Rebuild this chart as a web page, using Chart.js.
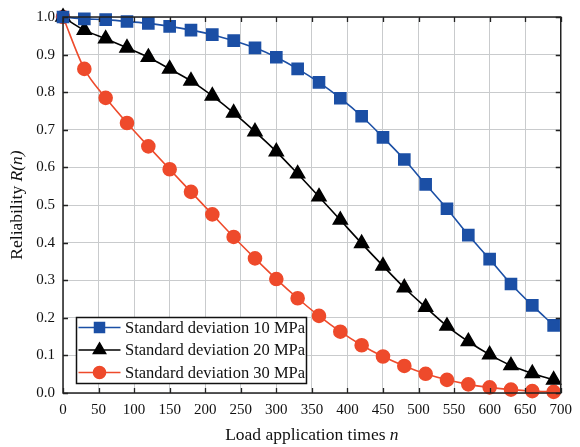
<!DOCTYPE html>
<html>
<head>
<meta charset="utf-8">
<script src="https://cdn.jsdelivr.net/npm/chart.js@4"></script>
<style>
  html, body { margin: 0; padding: 0; background: #fff; }
  #wrap { width: 580px; height: 447px; }
</style>
</head>
<body>
<div id="wrap"><canvas id="relChart" width="580" height="447"></canvas></div>
<script>
// load application times
const loadTimes = [0, 30, 60, 90, 120, 150, 180, 210, 240, 270, 300, 330, 360, 390, 420, 450, 480, 510, 540, 570, 600, 630, 660, 690];

// reliability R(n) per standard deviation
const sd10 = [1.0, 0.995, 0.993, 0.988, 0.983, 0.975, 0.965, 0.953, 0.937, 0.918, 0.893, 0.862, 0.826, 0.784, 0.736, 0.680, 0.621, 0.555, 0.490, 0.420, 0.356, 0.290, 0.233, 0.180];
const sd20 = [1.0, 0.965, 0.942, 0.918, 0.893, 0.862, 0.830, 0.790, 0.745, 0.695, 0.642, 0.583, 0.522, 0.460, 0.398, 0.338, 0.280, 0.228, 0.178, 0.137, 0.102, 0.073, 0.052, 0.035];
const sd30 = [1.0, 0.862, 0.785, 0.718, 0.656, 0.595, 0.535, 0.475, 0.415, 0.358, 0.303, 0.252, 0.205, 0.163, 0.127, 0.097, 0.072, 0.051, 0.035, 0.023, 0.015, 0.009, 0.005, 0.003];

const seriesNames = ["Standard deviation 10 MPa", "Standard deviation 20 MPa", "Standard deviation 30 MPa"];

const xTicks = [0, 50, 100, 150, 200, 250, 300, 350, 400, 450, 500, 550, 600, 650, 700];
const yTicks = [0, 0.1, 0.2, 0.3, 0.4, 0.5, 0.6, 0.7, 0.8, 0.9, 1.0];

const BLUE = "#1b4fa5";
const RED = "#ee4a2b";
const BLACK = "#000000";
const SERIF = "'Liberation Serif', 'Times New Roman', serif";

function pts(vals) {
    return vals.map((v, i) => ({ x: loadTimes[i], y: v }));
}

// inward ticks on all four sides, frame, legend and axis titles
const frameTicks = {
    id: "frameTicks",
    afterDatasetsDraw(chart) {
        const ctx = chart.ctx;
        const a = chart.chartArea;
        const xs = chart.scales.x, ys = chart.scales.y;
        ctx.save();
        ctx.strokeStyle = "#222";
        ctx.lineWidth = 1.3;
        ctx.beginPath();
        xTicks.forEach(t => {
            const px = Math.round(xs.getPixelForValue(t)) + 0.5;
            ctx.moveTo(px, a.bottom); ctx.lineTo(px, a.bottom - 5);
            ctx.moveTo(px, a.top); ctx.lineTo(px, a.top + 5);
        });
        yTicks.forEach(t => {
            const py = Math.round(ys.getPixelForValue(t)) + 0.5;
            ctx.moveTo(a.left, py); ctx.lineTo(a.left + 5, py);
            ctx.moveTo(a.right, py); ctx.lineTo(a.right - 5, py);
        });
        ctx.stroke();
        ctx.lineWidth = 1.5;
        ctx.strokeRect(a.left, a.top, a.right - a.left, a.bottom - a.top);
        ctx.restore();
    },
    afterDraw(chart) {
        const ctx = chart.ctx;
        const a = chart.chartArea;
        ctx.save();
        // legend box
        const lx = 76.5, ly = 317.5, lw = 230, lh = 66;
        ctx.fillStyle = "#fff";
        ctx.fillRect(lx, ly, lw, lh);
        ctx.strokeStyle = "#111";
        ctx.lineWidth = 1.5;
        ctx.strokeRect(lx, ly, lw, lh);
        const colors = [BLUE, BLACK, RED];
        const shapes = ["rect", "triangle", "circle"];
        const radii = [7, 7, 6];
        ctx.font = "16.5px " + SERIF;
        ctx.textBaseline = "middle";
        for (let i = 0; i < 3; i++) {
            const cy = ly + 10 + i * 22.5;
            ctx.strokeStyle = colors[i];
            ctx.lineWidth = 1.6;
            ctx.beginPath();
            ctx.moveTo(lx + 2, cy); ctx.lineTo(lx + 44, cy);
            ctx.stroke();
            ctx.fillStyle = colors[i];
            ctx.strokeStyle = colors[i];
            Chart.helpers.drawPoint(ctx, { pointStyle: shapes[i], radius: radii[i], borderWidth: 1 }, lx + 23, cy);
            ctx.fill();
            ctx.fillStyle = "#111";
            ctx.textAlign = "left";
            ctx.fillText(seriesNames[i], lx + 48.5, cy + 1);
        }
        // axis titles with italic parts
        ctx.fillStyle = "#111";
        const TF = "17.5px " + SERIF;
        const xt1 = "Load application times ";
        ctx.font = TF;
        const w1 = ctx.measureText(xt1).width;
        ctx.font = "italic " + TF;
        const w2 = ctx.measureText("n").width;
        const cx = (a.left + a.right) / 2;
        let sx = cx - (w1 + w2) / 2;
        ctx.textAlign = "left";
        ctx.textBaseline = "middle";
        ctx.font = TF;
        ctx.fillText(xt1, sx, 435);
        ctx.font = "italic " + TF;
        ctx.fillText("n", sx + w1, 435);

        ctx.translate(17, (a.top + a.bottom) / 2);
        ctx.rotate(-Math.PI / 2);
        const yt1 = "Reliability ";
        ctx.font = TF;
        const v1 = ctx.measureText(yt1).width;
        ctx.font = "italic " + TF;
        const v2 = ctx.measureText("R(n)").width;
        let sy = -(v1 + v2) / 2;
        ctx.font = TF;
        ctx.fillText(yt1, sy, 0);
        ctx.font = "italic " + TF;
        ctx.fillText("R(n)", sy + v1, 0);
        ctx.restore();
    }
};

const ctxR = document.getElementById("relChart").getContext("2d");

let chart = new Chart(ctxR, {
    type: "line",
    data: {
        datasets: [
            {
                label: seriesNames[0],
                data: pts(sd10),
                borderColor: BLUE,
                backgroundColor: BLUE,
                pointStyle: "rect",
                pointRadius: 7.8,
                borderWidth: 1.6
            },
            {
                label: seriesNames[1],
                data: pts(sd20),
                borderColor: BLACK,
                backgroundColor: BLACK,
                pointStyle: "triangle",
                pointRadius: 8,
                borderWidth: 1.6
            },
            {
                label: seriesNames[2],
                data: pts(sd30),
                borderColor: RED,
                backgroundColor: RED,
                pointStyle: "circle",
                pointRadius: 6.5,
                borderWidth: 1.6
            }
        ]
    },
    options: {
        responsive: false,
        animation: false,
        clip: false,
        layout: {
            autoPadding: false,
            padding: { left: 0, top: 14, right: 9, bottom: 0 }
        },
        elements: {
            line: { cubicInterpolationMode: "monotone" },
            point: { borderWidth: 1 }
        },
        plugins: {
            legend: { display: false },
            tooltip: { enabled: false }
        },
        scales: {
            x: {
                type: "linear",
                min: 0,
                max: 700,
                afterBuildTicks(s) { s.ticks = xTicks.map(v => ({ value: v })); },
                afterFit(s) { s.height = 54; },
                grid: { color: "#c9cbcd", lineWidth: 1, drawTicks: false },
                border: { display: false },
                ticks: {
                    color: "#111",
                    padding: 8,
                    maxRotation: 0,
                    autoSkip: false,
                    font: { family: SERIF, size: 15 }
                }
            },
            y: {
                min: 0,
                max: 1,
                afterBuildTicks(s) { s.ticks = yTicks.map(v => ({ value: v })); },
                afterFit(s) { s.width = 63; },
                grid: { color: "#c9cbcd", lineWidth: 1, drawTicks: false },
                border: { display: false },
                ticks: {
                    color: "#111",
                    padding: 8,
                    autoSkip: false,
                    font: { family: SERIF, size: 15 },
                    callback: v => v.toFixed(1)
                }
            }
        }
    },
    plugins: [frameTicks]
});
</script>
</body>
</html>
